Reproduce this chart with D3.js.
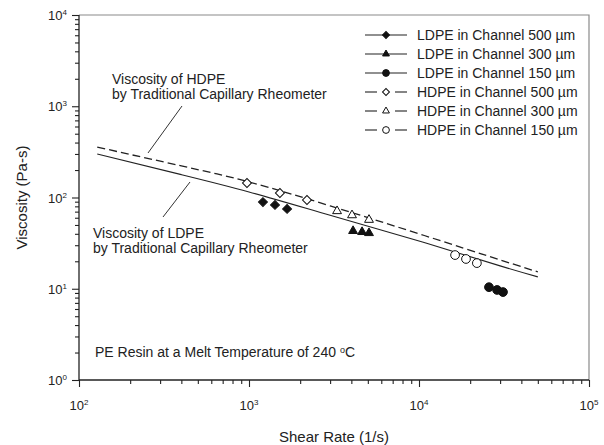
<!DOCTYPE html>
<html><head><meta charset="utf-8">
<style>
body { margin: 0; background: #fff; }
text { font-family: "Liberation Sans", Arial, sans-serif; fill: #222; }
</style>
</head><body>
<svg width="604" height="445"></svg>
<script src="https://d3js.org/d3.v7.min.js"></script>
<script>

// curves from the traditional capillary rheometer
var lineShear = [128, 400, 1000, 3000, 10000, 30000, 50000];
var hdpeLine = [357, 222, 148, 81, 40, 20.7, 15.3];
var ldpeLine = [300, 178, 115, 64, 33.4, 17.8, 13.5];

// micro channel measurements
var ldpe500 = { shear: [1208, 1422, 1675], visc: [89, 83, 75] };
var ldpe300 = { shear: [4094, 4625, 5080], visc: [43, 41.9, 40.8] };
var ldpe150 = { shear: [25800, 28800, 31200], visc: [10.4, 9.7, 9.2] };
var hdpe500 = { shear: [973, 1520, 2193], visc: [144, 112, 94] };
var hdpe300 = { shear: [3296, 4036, 5080], visc: [71, 64, 57] };
var hdpe150 = { shear: [16300, 18900, 21900], visc: [23.4, 21.2, 19.1] };

var xMajor = [1e2, 1e3, 1e4, 1e5], xExp = [2, 3, 4, 5];
var yMajor = [1, 10, 100, 1000, 10000], yExp = [0, 1, 2, 3, 4];

var svg = d3.select("svg"),
    margin = {top: 15, right: 15, bottom: 65, left: 79},
    width = +svg.attr("width") - margin.left - margin.right,
    height = +svg.attr("height") - margin.top - margin.bottom;

var x = d3.scaleLog().domain([100, 1e5]).range([0, width]),
    y = d3.scaleLog().domain([1, 1e4]).range([height, 0]);

var g = svg.append("g")
    .attr("transform", "translate(" + margin.left + "," + margin.top + ")");

// minor ticks
var xMinor = [], yMinor = [];
xMajor.slice(0, 3).forEach(function(d) { for (var k = 2; k < 10; k++) xMinor.push(d * k); });
yMajor.slice(0, 4).forEach(function(d) { for (var k = 2; k < 10; k++) yMinor.push(d * k); });

// top and right frame
g.append("path")
    .attr("d", "M0,0H" + width + "V" + height)
    .attr("fill", "none").attr("stroke", "#8a8a8a").attr("stroke-width", 1.2);

function styleAxis(sel) {
  sel.select(".domain").remove();
  sel.selectAll("line").attr("stroke", "#222").attr("stroke-width", 1.1);
}

g.append("g").attr("transform", "translate(0," + height + ")")
    .call(d3.axisBottom(x).tickValues(xMinor).tickSize(4).tickFormat("")).call(styleAxis);
g.append("g").attr("transform", "translate(0," + height + ")")
    .call(d3.axisBottom(x).tickValues(xMajor).tickSize(7).tickFormat("")).call(styleAxis);
g.append("g")
    .call(d3.axisLeft(y).tickValues(yMinor).tickSize(4).tickFormat("")).call(styleAxis);
g.append("g")
    .call(d3.axisLeft(y).tickValues(yMajor).tickSize(7).tickFormat("")).call(styleAxis);

// left and bottom axis lines
g.append("line").attr("x1", 0).attr("x2", width).attr("y1", height).attr("y2", height)
    .attr("stroke", "#222").attr("stroke-width", 1.3);
g.append("line").attr("x1", 0).attr("x2", 0).attr("y1", 0).attr("y2", height)
    .attr("stroke", "#222").attr("stroke-width", 1.3);

// tick labels with superscripts
var xl = g.selectAll(".xlab").data(xMajor).enter().append("text")
    .attr("x", function(d) { return x(d); })
    .attr("y", height + 30)
    .attr("text-anchor", "middle")
    .style("font-size", "13px");
xl.append("tspan").text("10");
xl.append("tspan").attr("dy", -5).style("font-size", "8px")
    .text(function(d, i) { return xExp[i]; });

var yl = g.selectAll(".ylab").data(yMajor).enter().append("text")
    .attr("x", -12)
    .attr("y", function(d) { return y(d) + 5; })
    .attr("text-anchor", "end")
    .style("font-size", "13px");
yl.append("tspan").text("10");
yl.append("tspan").attr("dy", -5).style("font-size", "8px")
    .text(function(d, i) { return yExp[i]; });

// axis titles
svg.append("text").attr("x", margin.left + width / 2).attr("y", 442)
    .attr("text-anchor", "middle").style("font-size", "15px").text("Shear Rate (1/s)");
svg.append("text").attr("transform", "translate(27," + (margin.top + height / 2) + ") rotate(-90)")
    .attr("text-anchor", "middle").style("font-size", "15px").text("Viscosity (Pa-s)");

// curves
var line = d3.line().curve(d3.curveNatural)
    .x(function(d) { return x(d[0]); })
    .y(function(d) { return y(d[1]); });

g.append("path").datum(d3.zip(lineShear, ldpeLine)).attr("d", line)
    .attr("fill", "none").attr("stroke", "#222").attr("stroke-width", 1.1);
g.append("path").datum(d3.zip(lineShear, hdpeLine)).attr("d", line)
    .attr("fill", "none").attr("stroke", "#222").attr("stroke-width", 1.3)
    .attr("stroke-dasharray", "8,4");

// markers (diamond = rotated square)
var series = [
  {s: ldpe500, sym: d3.symbolSquare, rot: 45, size: 40, fill: "#111", name: "LDPE in Channel 500 \u00b5m"},
  {s: ldpe300, sym: d3.symbolTriangle, rot: 0, size: 34, fill: "#111", name: "LDPE in Channel 300 \u00b5m"},
  {s: ldpe150, sym: d3.symbolCircle, rot: 0, size: 60, fill: "#111", name: "LDPE in Channel 150 \u00b5m"},
  {s: hdpe500, sym: d3.symbolSquare, rot: 45, size: 40, fill: "#fff", name: "HDPE in Channel 500 \u00b5m"},
  {s: hdpe300, sym: d3.symbolTriangle, rot: 0, size: 34, fill: "#fff", name: "HDPE in Channel 300 \u00b5m"},
  {s: hdpe150, sym: d3.symbolCircle, rot: 0, size: 60, fill: "#fff", name: "HDPE in Channel 150 \u00b5m"}
];

series.forEach(function(d) {
  g.selectAll(null).data(d3.zip(d.s.shear, d.s.visc)).enter().append("path")
      .attr("d", d3.symbol().type(d.sym).size(d.size))
      .attr("transform", function(p) { return "translate(" + x(p[0]) + "," + y(p[1]) + ") rotate(" + d.rot + ")"; })
      .attr("fill", d.fill).attr("stroke", "#111").attr("stroke-width", 1);
});

// legend
var lg = svg.append("g").attr("transform", "translate(365,35)");
series.forEach(function(d, i) {
  var row = lg.append("g").attr("transform", "translate(0," + i * 19 + ")");
  if (d.fill === "#fff") {
    row.append("line").attr("x1", 0).attr("x2", 12).attr("stroke", "#222").attr("stroke-width", 1.1);
    row.append("line").attr("x1", 30).attr("x2", 42).attr("stroke", "#222").attr("stroke-width", 1.1);
  } else {
    row.append("line").attr("x1", 0).attr("x2", 42).attr("stroke", "#222").attr("stroke-width", 1.1);
  }
  row.append("path").attr("d", d3.symbol().type(d.sym).size(d.size * 0.6))
      .attr("transform", "translate(21,0) rotate(" + d.rot + ")")
      .attr("fill", d.fill).attr("stroke", "#111").attr("stroke-width", 1);
  row.append("text").attr("x", 52).attr("y", 5).style("font-size", "14px").text(d.name);
});

// annotations
function note(lines, tx, ty, lx1, ly1, lx2, ly2) {
  svg.append("line").attr("x1", lx1).attr("y1", ly1).attr("x2", lx2).attr("y2", ly2)
      .attr("stroke", "#333").attr("stroke-width", 1);
  var t = svg.append("text").attr("x", tx).attr("y", ty).style("font-size", "14px");
  lines.forEach(function(s, i) {
    t.append("tspan").attr("x", tx).attr("dy", i ? 15 : 0).text(s);
  });
}
note(["Viscosity of HDPE", "by Traditional Capillary Rheometer"], 112, 84, 182, 106, 148, 153);
note(["Viscosity of LDPE", "by Traditional Capillary Rheometer"], 93, 238, 163, 217, 190, 182);

var pe = svg.append("text").attr("x", 95).attr("y", 357).style("font-size", "14px");
pe.append("tspan").text("PE Resin at a Melt Temperature of 240 ");
pe.append("tspan").attr("dy", -4).style("font-size", "9px").text("o");
pe.append("tspan").attr("dy", 4).text("C");

</script>
</body></html>
